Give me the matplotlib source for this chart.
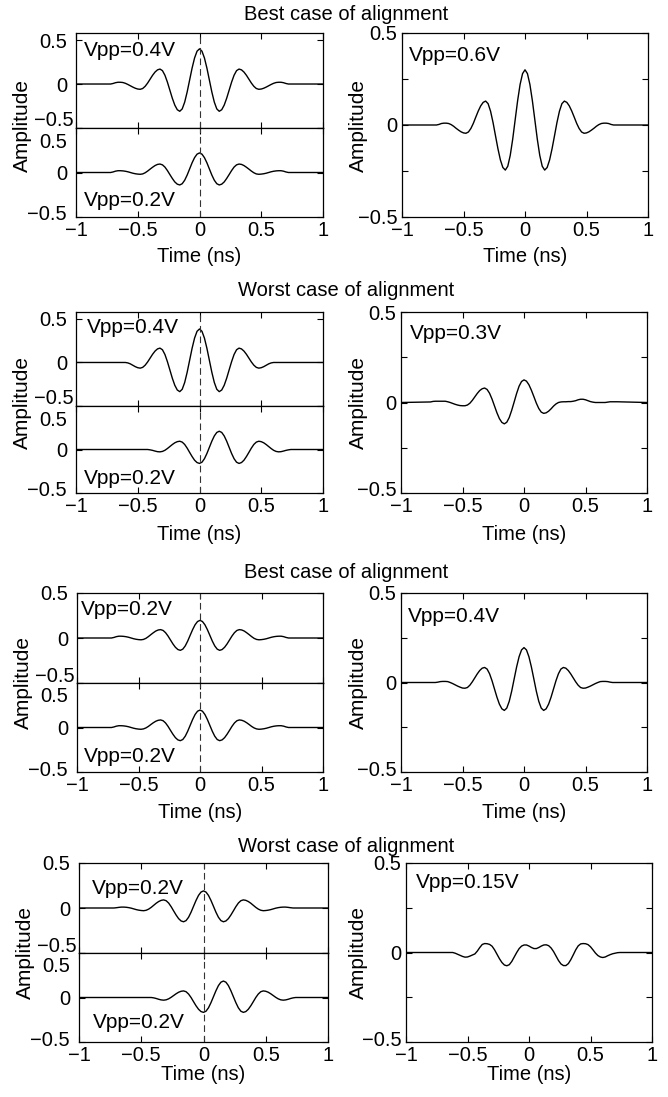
import matplotlib.pyplot as plt
from matplotlib.transforms import ScaledTranslation

plt.rcParams["font.family"] = ["Liberation Sans", "DejaVu Sans"]
plt.rcParams["font.size"] = 14

W, H = 668, 1097

# time samples (ns)
t = [-1.0,
     -0.76, -0.74, -0.72, -0.70, -0.68, -0.66, -0.64, -0.62, -0.60, -0.58,
     -0.56, -0.54, -0.52, -0.50, -0.48, -0.46, -0.44, -0.42, -0.40, -0.38,
     -0.36, -0.34, -0.32, -0.30, -0.28, -0.26, -0.24, -0.22, -0.20, -0.18,
     -0.16, -0.14, -0.12, -0.10, -0.08, -0.06, -0.04, -0.02, 0.0,
     0.02, 0.04, 0.06, 0.08, 0.10, 0.12, 0.14, 0.16, 0.18, 0.20,
     0.22, 0.24, 0.26, 0.28, 0.30, 0.32, 0.34, 0.36, 0.38, 0.40,
     0.42, 0.44, 0.46, 0.48, 0.50, 0.52, 0.54, 0.56, 0.58, 0.60,
     0.62, 0.64, 0.66, 0.68, 0.70, 0.72, 0.74, 0.76,
     1.0]

# Row 1 - best case (left: two pulses, right: received sum)
r1_top = [0, 0, 0, 0, 0.006, 0.015, 0.02, 0.02, 0.017, 0.008, -0.005, -0.02, -0.035, -0.048, -0.057, -0.06, -0.051, -0.026, 0.011, 0.055,
          0.099, 0.136, 0.161, 0.17, 0.152, 0.10, 0.022, -0.07, -0.162, -0.24, -0.292, -0.31, -0.283, -0.206, -0.091, 0.045, 0.181, 0.296, 0.373,
          0.40, 0.373, 0.296, 0.181, 0.045, -0.091, -0.206, -0.283, -0.31, -0.292, -0.24, -0.162, -0.07, 0.022, 0.10, 0.152, 0.17, 0.161, 0.136,
          0.099, 0.055, 0.011, -0.026, -0.051, -0.06, -0.057, -0.048, -0.035, -0.02, -0.005, 0.008, 0.017, 0.02, 0.02, 0.015, 0.006, 0, 0, 0, 0]
r1_bot = [0, 0, 0, 0, 0.006, 0.015, 0.02, 0.02, 0.018, 0.014, 0.008, 0.0, -0.008, -0.014, -0.018, -0.02, -0.016, -0.003, 0.016, 0.038,
          0.059, 0.078, 0.091, 0.095, 0.086, 0.061, 0.022, -0.023, -0.067, -0.106, -0.131, -0.14, -0.126, -0.087, -0.029, 0.04, 0.109, 0.167, 0.206,
          0.22, 0.206, 0.167, 0.109, 0.04, -0.029, -0.087, -0.126, -0.14, -0.131, -0.106, -0.067, -0.023, 0.022, 0.061, 0.086, 0.095, 0.091, 0.078,
          0.059, 0.038, 0.016, -0.003, -0.016, -0.02, -0.018, -0.014, -0.008, 0.0, 0.008, 0.014, 0.018, 0.02, 0.02, 0.015, 0.006, 0, 0, 0, 0]
r1_right = [0, 0, 0, 0, 0.003, 0.008, 0.01, 0.01, 0.008, 0.002, -0.007, -0.018, -0.028, -0.037, -0.043, -0.045, -0.038, -0.019, 0.009, 0.043,
            0.076, 0.104, 0.123, 0.13, 0.116, 0.075, 0.014, -0.058, -0.129, -0.19, -0.231, -0.245, -0.224, -0.165, -0.077, 0.028, 0.132, 0.22, 0.279,
            0.30, 0.279, 0.22, 0.132, 0.028, -0.077, -0.165, -0.224, -0.245, -0.231, -0.19, -0.129, -0.058, 0.014, 0.075, 0.116, 0.13, 0.123, 0.104,
            0.076, 0.043, 0.009, -0.019, -0.038, -0.045, -0.043, -0.037, -0.028, -0.018, -0.007, 0.002, 0.008, 0.01, 0.01, 0.008, 0.003, 0, 0, 0, 0]

# Row 2 - worst case
r2_top = [0, 0, 0, 0, 0, 0, 0, 0, 0, 0, -0.005, -0.016, -0.032, -0.048, -0.06, -0.065, -0.056, -0.031, 0.006, 0.05,
          0.094, 0.131, 0.156, 0.165, 0.146, 0.092, 0.01, -0.085, -0.181, -0.262, -0.316, -0.335, -0.308, -0.23, -0.113, 0.025, 0.163, 0.28, 0.358,
          0.385, 0.358, 0.28, 0.163, 0.025, -0.113, -0.23, -0.308, -0.335, -0.316, -0.262, -0.181, -0.085, 0.01, 0.092, 0.146, 0.165, 0.156, 0.131,
          0.094, 0.05, 0.006, -0.031, -0.056, -0.065, -0.06, -0.048, -0.032, -0.016, -0.005, 0, 0, 0, 0, 0, 0, 0, 0, 0, 0]
r2_bot = [0, 0, 0, 0, 0, 0, 0, 0, 0, 0, 0, 0, 0, 0, 0, 0, 0, 0, 0, -0.004,
          -0.01, -0.018, -0.025, -0.027, -0.022, -0.009, 0.011, 0.034, 0.057, 0.077, 0.09, 0.095, 0.085, 0.058, 0.016, -0.033, -0.081, -0.123, -0.15,
          -0.16, -0.146, -0.106, -0.046, 0.025, 0.096, 0.156, 0.196, 0.21, 0.196, 0.156, 0.096, 0.025, -0.046, -0.106, -0.146, -0.16, -0.15, -0.123,
          -0.081, -0.033, 0.016, 0.058, 0.085, 0.095, 0.09, 0.077, 0.057, 0.034, 0.011, -0.009, -0.022, -0.027, -0.025, -0.018, -0.01, -0.004, 0, 0, 0]
r2_right = [0, 0.003, 0.006, 0.007, 0.007, 0.007, 0.007, 0.007, 0.004, 0.0, -0.005, -0.01, -0.014, -0.017, -0.018, -0.018, -0.014, -0.004, 0.012, 0.031,
            0.05, 0.066, 0.076, 0.08, 0.072, 0.051, 0.019, -0.019, -0.057, -0.089, -0.11, -0.118, -0.109, -0.083, -0.043, 0.003, 0.05, 0.09, 0.116,
            0.125, 0.118, 0.098, 0.068, 0.033, -0.003, -0.033, -0.053, -0.06, -0.057, -0.048, -0.035, -0.02, -0.008, 0.0, 0.003, 0.004, 0.004, 0.005,
            0.005, 0.007, 0.01, 0.015, 0.018, 0.018, 0.015, 0.01, 0.005, 0.002, 0, 0, 0, 0, 0, 0.002, 0.004, 0.004, 0.004, 0.004, 0]

# Row 3 - best case
r3_top = [0, 0, 0, 0, 0.006, 0.015, 0.02, 0.02, 0.018, 0.014, 0.008, 0.0, -0.008, -0.014, -0.018, -0.02, -0.016, -0.004, 0.015, 0.037,
          0.058, 0.077, 0.089, 0.093, 0.084, 0.059, 0.022, -0.022, -0.066, -0.103, -0.128, -0.137, -0.124, -0.088, -0.034, 0.03, 0.093, 0.147, 0.183,
          0.196, 0.183, 0.147, 0.093, 0.03, -0.034, -0.088, -0.124, -0.137, -0.128, -0.103, -0.066, -0.022, 0.022, 0.059, 0.084, 0.093, 0.089, 0.077,
          0.058, 0.037, 0.015, -0.004, -0.016, -0.02, -0.018, -0.014, -0.008, 0.0, 0.008, 0.014, 0.018, 0.02, 0.02, 0.015, 0.006, 0, 0, 0, 0]
r3_bot = [0, 0, 0, 0, 0.006, 0.015, 0.02, 0.02, 0.018, 0.014, 0.008, 0.0, -0.008, -0.014, -0.018, -0.02, -0.016, -0.005, 0.012, 0.033,
          0.053, 0.07, 0.081, 0.085, 0.076, 0.051, 0.013, -0.032, -0.076, -0.114, -0.139, -0.148, -0.135, -0.098, -0.042, 0.024, 0.09, 0.146, 0.183,
          0.196, 0.183, 0.146, 0.09, 0.024, -0.042, -0.098, -0.135, -0.148, -0.139, -0.114, -0.076, -0.032, 0.013, 0.051, 0.076, 0.085, 0.081, 0.07,
          0.053, 0.033, 0.012, -0.005, -0.016, -0.02, -0.018, -0.014, -0.008, 0.0, 0.008, 0.014, 0.018, 0.02, 0.02, 0.015, 0.006, 0, 0, 0, 0]
r3_right = [0, 0, 0, 0, 0.002, 0.005, 0.006, 0.006, 0.005, 0.0, -0.006, -0.013, -0.02, -0.026, -0.031, -0.032, -0.028, -0.015, 0.004, 0.026,
            0.048, 0.067, 0.08, 0.084, 0.075, 0.049, 0.01, -0.036, -0.082, -0.121, -0.147, -0.156, -0.143, -0.105, -0.048, 0.02, 0.087, 0.144, 0.182,
            0.195, 0.182, 0.144, 0.087, 0.02, -0.048, -0.105, -0.143, -0.156, -0.147, -0.121, -0.082, -0.036, 0.01, 0.049, 0.075, 0.084, 0.08, 0.067,
            0.048, 0.026, 0.004, -0.015, -0.028, -0.032, -0.031, -0.026, -0.02, -0.013, -0.006, 0.0, 0.005, 0.006, 0.006, 0.005, 0.002, 0, 0, 0, 0]

# Row 4 - worst case
r4_top = [0, 0, 0, 0, 0.003, 0.007, 0.01, 0.01, 0.008, 0.004, -0.002, -0.01, -0.018, -0.024, -0.028, -0.03, -0.025, -0.012, 0.007, 0.03,
          0.053, 0.072, 0.085, 0.09, 0.081, 0.055, 0.015, -0.032, -0.078, -0.118, -0.144, -0.153, -0.14, -0.103, -0.047, 0.019, 0.084, 0.14, 0.177,
          0.19, 0.177, 0.14, 0.084, 0.019, -0.047, -0.103, -0.14, -0.153, -0.144, -0.118, -0.078, -0.032, 0.015, 0.055, 0.081, 0.09, 0.085, 0.072,
          0.053, 0.03, 0.007, -0.012, -0.025, -0.03, -0.028, -0.024, -0.018, -0.01, -0.002, 0.004, 0.008, 0.01, 0.01, 0.007, 0.003, 0, 0, 0, 0]
r4_bot = [0, 0, 0, 0, 0, 0, 0, 0, 0, 0, 0, 0, 0, 0, 0, 0, 0, 0, 0, -0.004,
          -0.011, -0.02, -0.027, -0.03, -0.026, -0.015, 0.002, 0.022, 0.042, 0.059, 0.07, 0.074, 0.065, 0.039, 0.0, -0.047, -0.093, -0.132, -0.158,
          -0.167, -0.154, -0.116, -0.058, 0.009, 0.076, 0.134, 0.172, 0.185, 0.172, 0.134, 0.076, 0.009, -0.058, -0.116, -0.154, -0.167, -0.158, -0.132,
          -0.093, -0.047, 0.0, 0.039, 0.065, 0.074, 0.07, 0.059, 0.042, 0.022, 0.002, -0.015, -0.026, -0.03, -0.027, -0.02, -0.011, -0.004, 0, 0, 0]
r4_right = [0, 0, 0, 0, 0, 0, 0, 0, 0, -0.004, -0.01, -0.016, -0.022, -0.026, -0.025, -0.02, -0.014, -0.008, 0.008, 0.028,
            0.045, 0.05, 0.049, 0.045, 0.035, 0.015, -0.01, -0.035, -0.056, -0.07, -0.074, -0.068, -0.05, -0.025, 0.0, 0.022, 0.036, 0.042, 0.042,
            0.036, 0.028, 0.022, 0.022, 0.028, 0.036, 0.042, 0.043, 0.038, 0.025, 0.005, -0.02, -0.045, -0.064, -0.073, -0.073, -0.062, -0.04, -0.013,
            0.015, 0.037, 0.048, 0.05, 0.049, 0.044, 0.032, 0.015, -0.003, -0.017, -0.025, -0.028, -0.025, -0.018, -0.012, -0.007, -0.004, -0.001, 0, 0, 0]

titles = ["Best case of alignment", "Worst case of alignment",
          "Best case of alignment", "Worst case of alignment"]
vpp_top = ["Vpp=0.4V", "Vpp=0.4V", "Vpp=0.2V", "Vpp=0.2V"]
vpp_bot = ["Vpp=0.2V", "Vpp=0.2V", "Vpp=0.2V", "Vpp=0.2V"]
vpp_right = ["Vpp=0.6V", "Vpp=0.3V", "Vpp=0.4V", "Vpp=0.15V"]

xticks = [-1, -0.5, 0, 0.5, 1]
xtick_labels = ["\u22121", "\u22120.5", "0", "0.5", "1"]
yticks = [-0.5, 0, 0.5]
ytick_labels = ["\u22120.5", "0", "0.5"]

# pixel layout per row: left (x0, x1, top, split, bottom), right (x0, x1, top, bottom)
rows = [
    dict(left=(76, 323, 33, 128, 217), right=(402, 648, 33, 217), title_y=14, xlab_y=257,
         top_max=0.58, txt_top=(0.03, 0.82), txt_bot=(0.03, 0.19), txt_r=(0.03, 0.88), amp_x=22),
    dict(left=(76, 323, 312, 406, 493), right=(401, 647, 312, 493), title_y=290, xlab_y=535,
         top_max=0.58, txt_top=(0.045, 0.84), txt_bot=(0.03, 0.17), txt_r=(0.035, 0.88), amp_x=22),
    dict(left=(77, 323, 593, 683, 772), right=(401, 647, 593, 772), title_y=572, xlab_y=813,
         top_max=0.5, txt_top=(0.015, 0.82), txt_bot=(0.03, 0.17), txt_r=(0.03, 0.87), amp_x=23),
    dict(left=(79, 328, 863, 953, 1042), right=(406, 652, 863, 1042), title_y=846, xlab_y=1075,
         top_max=0.5, txt_top=(0.05, 0.72), txt_bot=(0.055, 0.22), txt_r=(0.04, 0.89), amp_x=25),
]
data = [(r1_top, r1_bot, r1_right), (r2_top, r2_bot, r2_right),
        (r3_top, r3_bot, r3_right), (r4_top, r4_bot, r4_right)]


def add_axes_px(fig, x0, x1, y0, y1):
    return fig.add_axes([x0 / W, 1 - y1 / H, (x1 - x0) / W, (y1 - y0) / H])


def style_axes(ax, ypad):
    ax.set_xlim(-1, 1)
    ax.set_xticks(xticks, xtick_labels)
    ax.set_yticks(yticks, ytick_labels)
    ax.tick_params(which="both", direction="in", top=True, right=True,
                   length=4, width=0.8, labelsize=14.5)
    ax.tick_params(axis="x", pad=3)
    ax.tick_params(axis="y", pad=ypad)
    for s in ax.spines.values():
        s.set_linewidth(0.9)


def shift_label(fig, label, dx_px, dy_px):
    label.set_transform(label.get_transform()
                        + ScaledTranslation(dx_px / 100, dy_px / 100, fig.dpi_scale_trans))


fig = plt.figure(figsize=(W / 100, H / 100), dpi=100)

for i, (row, (top_vals, bot_vals, right_vals), title, vt, vb, vr) in enumerate(zip(
        rows, data, titles, vpp_top, vpp_bot, vpp_right)):
    x0, x1, ytop, ysplit, ybot = row["left"]
    ax_t = add_axes_px(fig, x0, x1, ytop, ysplit)
    ax_b = add_axes_px(fig, x0, x1, ysplit, ybot)

    ax_t.plot(t, top_vals, color="black", lw=1.0)
    ax_b.plot(t, bot_vals, color="black", lw=1.0)
    for ax in (ax_t, ax_b):
        style_axes(ax, 6.5)
        ax.axvline(0, color="#333333", lw=0.8, ls=(0, (6, 3.5)))
    ax_t.set_ylim(-0.5, row["top_max"])
    ax_b.set_ylim(-0.5, 0.5)
    ax_t.tick_params(labelbottom=False)
    ax_t.text(*row["txt_top"], vt, transform=ax_t.transAxes, va="center", fontsize=15)
    ax_b.text(*row["txt_bot"], vb, transform=ax_b.transAxes, va="center", fontsize=15)

    # keep the inner tick labels from colliding at the shared edge
    shift_label(fig, ax_t.get_yticklabels()[0], 7, 9)
    shift_label(fig, ax_b.get_yticklabels()[0], 0, 4)
    shift_label(fig, ax_b.get_yticklabels()[2], 0, -12)

    rx0, rx1, rtop, rbot = row["right"]
    ax_r = add_axes_px(fig, rx0, rx1, rtop, rbot)
    ax_r.plot(t, right_vals, color="black", lw=1.0)
    style_axes(ax_r, 3.5)
    ax_r.set_ylim(-0.5, 0.5)
    ax_r.set_yticks([-0.25, 0.25], minor=True)
    ax_r.tick_params(which="minor", direction="in", left=True, right=True, length=4, width=0.8)
    ax_r.text(*row["txt_r"], vr, transform=ax_r.transAxes, va="center", fontsize=15)
    if i > 0:
        shift_label(fig, ax_r.get_yticklabels()[0], 0, 4)

    # titles and axis labels
    fig.text(346 / W, 1 - row["title_y"] / H, title, ha="center", va="center", fontsize=14.5)
    fig.text(row["amp_x"] / W, 1 - (ytop + ybot) / 2 / H, "Amplitude",
             rotation=90, ha="center", va="center", fontsize=15)
    fig.text(358 / W, 1 - (rtop + rbot) / 2 / H, "Amplitude",
             rotation=90, ha="center", va="center", fontsize=15)
    fig.text((x0 + x1) / 2 / W, 1 - row["xlab_y"] / H, "Time (ns)",
             ha="center", va="center", fontsize=14.5)
    fig.text((rx0 + rx1) / 2 / W, 1 - row["xlab_y"] / H, "Time (ns)",
             ha="center", va="center", fontsize=14.5)

fig.savefig("out.png", dpi=100)
